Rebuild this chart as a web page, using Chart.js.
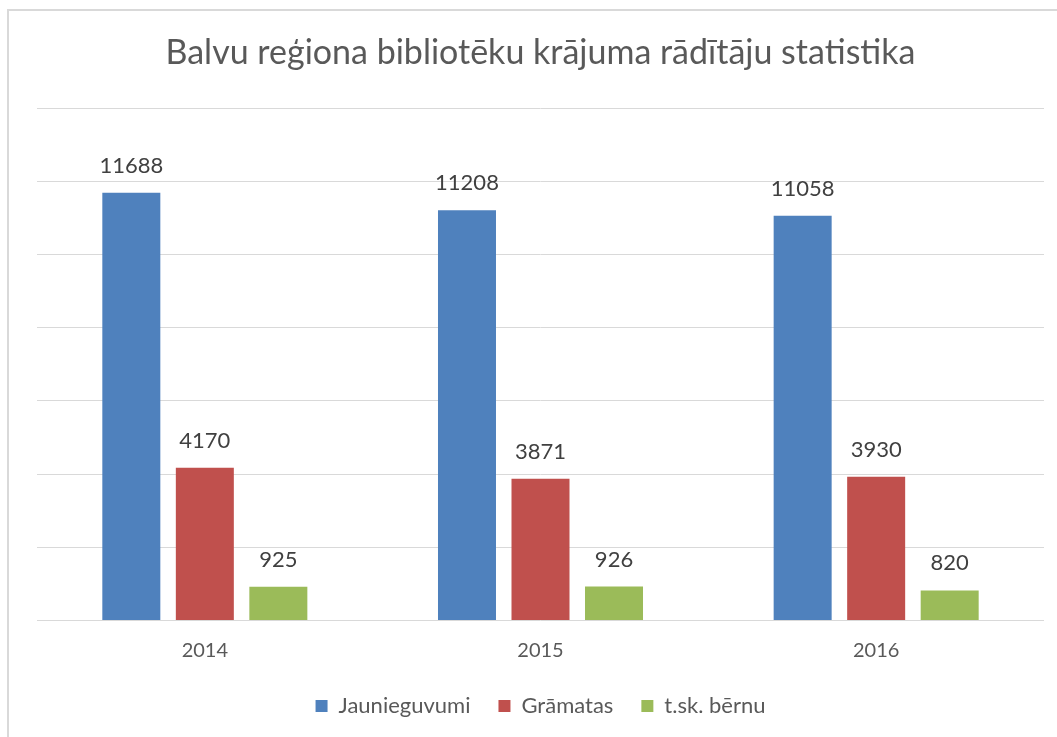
<!DOCTYPE html>
<html>
<head>
<meta charset="utf-8">
<script src="https://cdn.jsdelivr.net/npm/chart.js@4"></script>
<style>
html,body{margin:0;padding:0;background:#fff;overflow:hidden;}
#wrap{position:relative;width:1057px;height:737px;}
</style>
</head>
<body>
<div id="wrap"><canvas id="c" width="1057" height="737"></canvas></div>
<script>
const titleText = 'Balvu reģiona bibliotēku krājuma rādītāju statistika';
const categories = ['2014', '2015', '2016'];
const seriesNames = ['Jaunieguvumi', 'Grāmatas', 't.sk. bērnu'];
const jaunieguvumi = [11688, 11208, 11058];
const gramatas = [4170, 3871, 3930];
const bernu = [925, 926, 820];
const colors = ['#4F81BD', '#C0504D', '#9BBB59'];
const FONT = 'Lato, "Open Sans", sans-serif';

const frame = {
  id: 'frame',
  beforeDraw(chart) {
    const ctx = chart.ctx;
    ctx.save();
    ctx.strokeStyle = '#D9D9D9';
    ctx.lineWidth = 2;
    ctx.beginPath();
    ctx.moveTo(8, 740);
    ctx.lineTo(8, 10);
    ctx.lineTo(1060, 10);
    ctx.stroke();
    ctx.restore();
  }
};

const dataLabels = {
  id: 'dataLabels',
  afterDatasetsDraw(chart) {
    const ctx = chart.ctx;
    ctx.save();
    ctx.font = '22px ' + FONT;
    ctx.fillStyle = '#404040';
    ctx.textAlign = 'center';
    ctx.textBaseline = 'alphabetic';
    chart.data.datasets.forEach((ds, i) => {
      const meta = chart.getDatasetMeta(i);
      meta.data.forEach((bar, j) => {
        ctx.fillText(String(ds.data[j]), bar.x, bar.y - 20);
      });
    });
    ctx.restore();
  }
};

new Chart(document.getElementById('c'), {
  type: 'bar',
  data: {
    labels: categories,
    datasets: [
      {label: seriesNames[0], data: jaunieguvumi, backgroundColor: colors[0]},
      {label: seriesNames[1], data: gramatas, backgroundColor: colors[1]},
      {label: seriesNames[2], data: bernu, backgroundColor: colors[2]}
    ]
  },
  options: {
    responsive: false,
    animation: false,
    devicePixelRatio: 1,
    layout: {padding: {left: 37, right: 13, top: 0, bottom: 10}},
    datasets: {bar: {categoryPercentage: 0.657, barPercentage: 0.789, borderWidth: 0}},
    plugins: {
      title: {
        display: true,
        text: titleText,
        color: '#595959',
        font: {family: FONT, size: 34, weight: 'normal', lineHeight: 1.2},
        padding: {top: 32.6, bottom: 34.6}
      },
      legend: {
        position: 'bottom',
        labels: {
          color: '#595959',
          font: {family: FONT, size: 22},
          boxWidth: 12,
          boxHeight: 12,
          padding: 28
        }
      },
      tooltip: {enabled: false}
    },
    scales: {
      x: {
        grid: {display: false, drawTicks: false},
        border: {display: false},
        ticks: {color: '#595959', font: {family: FONT, size: 20}, padding: 18},
        afterFit(s) { s.height = 46.5; }
      },
      y: {
        min: 0, max: 14000,
        ticks: {display: false, stepSize: 2000},
        grid: {color: '#D9D9D9', lineWidth: 1, drawTicks: false},
        border: {display: false},
        afterFit(s) { s.width = 0; }
      }
    }
  },
  plugins: [frame, dataLabels]
});
</script>
</body>
</html>
